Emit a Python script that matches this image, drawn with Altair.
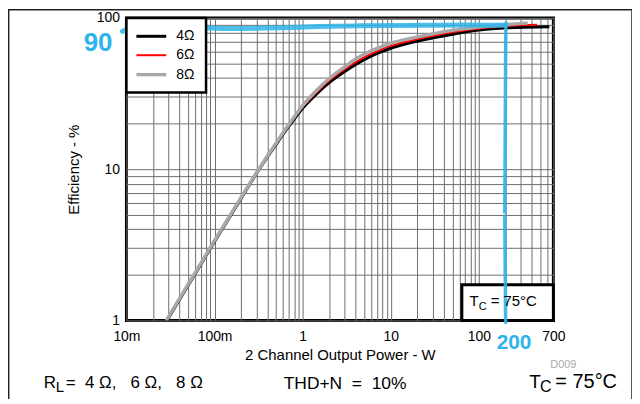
import altair as alt
import pandas as pd

# ---------------- data ----------------
loads = ["4Ω", "6Ω", "8Ω"]
load_colors = ["#000000", "#ff0000", "#a8a8a8"]
load_widths = [3, 2, 3.4]

power_4 = [0.0288, 0.05, 0.1, 0.2, 0.3, 0.5, 0.7, 1, 1.5, 2, 3, 4, 5.6, 8, 10, 15, 30, 50, 100, 200, 630]
eff_4 = [1.0, 1.7, 3.33, 6.4, 9.4, 14.6, 19.3, 25.3, 32.2, 37.3, 44.2, 49.2, 54.8, 60.0, 63.0, 67.5, 73.8, 78.0, 83.2, 85.8, 87.5]

power_6 = [0.0288, 0.05, 0.1, 0.2, 0.3, 0.5, 0.7, 1, 1.5, 2, 3, 4, 5.6, 8, 10, 15, 30, 50, 100, 200, 456]
eff_6 = [1.0, 1.7, 3.33, 6.4, 9.4, 14.7, 19.5, 25.8, 33.0, 38.5, 45.8, 51.0, 56.8, 62.2, 65.3, 69.6, 76.0, 80.3, 85.0, 88.3, 90.0]

power_8 = [0.0283, 0.05, 0.1, 0.2, 0.3, 0.5, 0.7, 1, 1.5, 2, 3, 4, 5.6, 8, 10, 15, 30, 50, 100, 200, 358]
eff_8 = [1.0, 1.73, 3.38, 6.5, 9.5, 14.9, 19.8, 26.3, 34.0, 39.8, 47.5, 53.5, 59.5, 64.8, 68.0, 72.2, 78.5, 82.6, 86.9, 90.3, 92.3]

# hand-drawn blue markings (data coordinates)
mark90_power = [0.0090, 0.014, 0.067, 0.158, 0.536, 1.52, 4.3, 20.5, 75.2, 202]
mark90_eff = [81.3, 88.6, 86.3, 85.1, 86.0, 87.7, 88.6, 89.3, 89.9, 89.3]
mark200_power = [203, 201, 199, 196, 199, 201]
mark200_eff = [92.7, 60, 20, 5, 2, 0.97]

x_tick_values = [0.01, 0.1, 1, 10, 100, 700]
x_tick_labels = ["10m", "100m", "1", "10", "100", "700"]
y_tick_values = [1, 10, 100]
y_tick_labels = ["1", "10", "100"]

x_grid = [round(m * 10 ** e, 6) for e in range(-2, 3) for m in range(1, 10) if m * 10 ** e <= 700]
y_grid = [round(m * 10 ** e, 6) for e in range(0, 2) for m in range(1, 10)] + [100]

# --------------- tables ---------------
rows = []
for name, pw, ef in zip(loads, [power_4, power_6, power_8], [eff_4, eff_6, eff_8]):
    for p, e in zip(pw, ef):
        rows.append({"power": p, "eff": e, "load": name})
curves_df = pd.DataFrame(rows)

blue_h = pd.DataFrame({"power": mark90_power, "eff": mark90_eff, "i": range(len(mark90_power))})
blue_v = pd.DataFrame({"power": mark200_power, "eff": mark200_eff, "i": range(len(mark200_power))})


def label_expr(vals, labels):
    expr = "''"
    for v, l in reversed(list(zip(vals, labels))):
        expr = f"datum.value == {v} ? '{l}' : ({expr})"
    return expr


FONT = "Liberation Sans"
BLUE = "#2db4ea"

xscale = alt.Scale(type="log", domain=[0.01, 700], nice=False)
yscale = alt.Scale(type="log", domain=[1, 100], nice=False)

xaxis = alt.Axis(values=x_grid, labelExpr=label_expr(x_tick_values, x_tick_labels),
                 title="2 Channel Output Power - W", labelOverlap=False, labelFlush=False,
                 labelPadding=9, titlePadding=4)
yaxis = alt.Axis(values=y_grid, labelExpr=label_expr(y_tick_values, y_tick_labels),
                 title="Efficiency - %", labelOverlap=False, labelFlush=False,
                 labelPadding=7, titlePadding=15)

curves = alt.Chart(curves_df).mark_line(interpolate="monotone", clip=True).encode(
    x=alt.X("power:Q", scale=xscale, axis=xaxis),
    y=alt.Y("eff:Q", scale=yscale, axis=yaxis),
    color=alt.Color("load:N", scale=alt.Scale(domain=loads, range=load_colors),
                    legend=alt.Legend(title=None, orient="none", legendX=0, legendY=0,
                                      fillColor="white", strokeColor="black",
                                      padding=11, rowPadding=4.5, labelFontSize=14,
                                      labelFont=FONT, labelColor="black",
                                      symbolType="M-1.5,0H3.5", symbolSize=144,
                                      symbolStrokeWidth=3, labelOffset=23)),
    strokeWidth=alt.StrokeWidth("load:N", scale=alt.Scale(type="ordinal", domain=loads, range=load_widths),
                                legend=None),
)

tc_box = alt.Chart(alt.Data(values=[{"x1": 64, "x2": 700, "y1": 1, "y2": 1.72}])).mark_rect(
    fill="white", stroke="black", strokeWidth=3
).encode(x=alt.X("x1:Q", scale=xscale), x2="x2:Q", y=alt.Y("y1:Q", scale=yscale), y2="y2:Q")

blue_line_h = alt.Chart(blue_h).mark_line(color=BLUE, strokeWidth=5, strokeCap="round",
                                          opacity=0.85, interpolate="monotone").encode(
    x=alt.X("power:Q", scale=xscale), y=alt.Y("eff:Q", scale=yscale), order="i:Q")
blue_line_v = alt.Chart(blue_v).mark_line(color=BLUE, strokeWidth=3.5, strokeCap="round",
                                          opacity=0.9, interpolate="monotone").encode(
    x=alt.X("power:Q", scale=xscale), y=alt.Y("eff:Q", scale=yscale), order="i:Q")

one = alt.Data(values=[{}])


def txt(text, x, y, size, color="black", font=FONT, weight="normal", align="left", baseline="alphabetic"):
    return alt.Chart(one).mark_text(text=text, fontSize=size, font=font, color=color,
                                    fontWeight=weight, align=align, baseline=baseline).encode(
        x=alt.value(x), y=alt.value(y))


NB = "\u00a0"
texts = [
    txt("T", 344.7, 289.7, 15), txt("C", 354, 293.5, 11), txt("= 75°C", 366, 289.7, 15),
    txt("R", -83, 372, 17), txt("L", -71, 375.5, 15),
    txt("=" + NB * 2 + "4" + NB + "Ω," + NB * 3 + "6" + NB + "Ω," + NB * 3 + "8" + NB + "Ω", -61, 372, 17),
    txt("THD+N" + NB * 2 + "=" + NB * 2 + "10%", 158, 373, 17.5),
    txt("T", 404.7, 372, 19), txt("C", 415.5, 375.5, 16), txt("=" + NB + "75°C", 431, 372, 20),
    txt("D009", 439, 349, 11, color="#a8a8a8", align="center", baseline="middle"),
    txt("90", -28.5, 25, 26, color=BLUE, weight="bold", align="center", baseline="middle"),
    txt("200", 389.5, 327, 21, color=BLUE, weight="bold", align="center", baseline="middle"),
]

frame = [
    alt.Chart(one).mark_rule(color="#222222", strokeWidth=1.5).encode(
        x=alt.value(-118.3), y=alt.value(-9), y2=alt.value(383)),
    alt.Chart(one).mark_rule(color="#222222", strokeWidth=1.5).encode(
        x=alt.value(508), y=alt.value(-9), y2=alt.value(383)),
    alt.Chart(one).mark_rule(color="#222222", strokeWidth=1.5).encode(
        x=alt.value(-119), x2=alt.value(512), y=alt.value(-8.3)),
]

chart = alt.layer(curves, tc_box, blue_line_h, blue_line_v, *texts, *frame).properties(
    width=429, height=304,
    autosize=alt.AutoSizeParams(type="none"),
    padding={"left": 119, "top": 9, "right": 79, "bottom": 78},
).configure_view(
    stroke="black", strokeWidth=3
).configure_axis(
    grid=True, gridColor="#6e6e6e", gridWidth=1, domain=False, ticks=False,
    labelFont=FONT, labelFontSize=14, labelColor="black",
    titleFont=FONT, titleFontSize=15, titleFontWeight="normal", titleColor="black",
).configure_legend(
    strokeWidth=2.5
)

chart.save("out.html", embed_options={"renderer": "svg", "actions": False})
